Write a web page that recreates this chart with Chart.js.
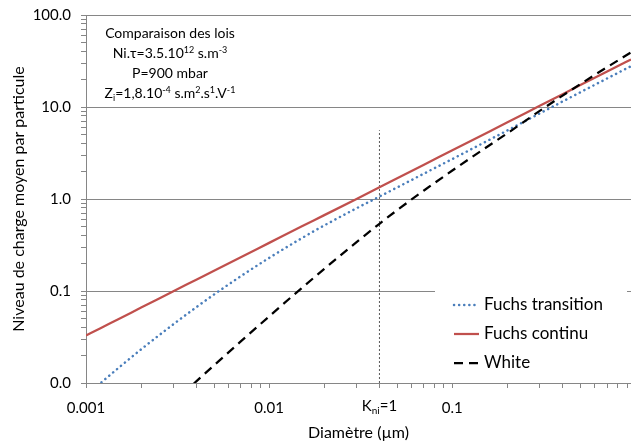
<!DOCTYPE html>
<html>
<head>
<meta charset="utf-8">
<script src="https://cdn.jsdelivr.net/npm/chart.js@4.4.1/dist/chart.umd.min.js"></script>
<style>
    html, body { margin: 0; padding: 0; background: #fff; }
    canvas { display: block; }
</style>
</head>
<body>
<canvas id="chart" width="631" height="445"></canvas>
<script>
// ---- Données (diamètre en µm, charge moyenne) ----
const diametres = [0.001, 0.0012, 0.0015, 0.002, 0.003, 0.004, 0.005, 0.007, 0.01, 0.015, 0.02,
    0.03, 0.04, 0.05, 0.07, 0.1, 0.15, 0.2, 0.3, 0.4, 0.5, 0.7, 0.945];
const fuchsTransition = [0.00728, 0.00997, 0.01452, 0.02323, 0.04354, 0.06667, 0.09163, 0.1448, 0.2291,
    0.3732, 0.5164, 0.7934, 1.063, 1.336, 1.888, 2.721, 4.133, 5.571, 8.508, 11.48, 14.46, 20.44, 27.80];
const fuchsContinu = [0.0328, 0.0394, 0.0494, 0.0660, 0.0994, 0.1328, 0.1663, 0.2332, 0.3335,
    0.501, 0.668, 1.003, 1.34, 1.68, 2.36, 3.38, 5.09, 6.81, 10.3, 13.8, 17.3, 24.3, 32.9];
const white = [0.00072, 0.00104, 0.00162, 0.00284, 0.00613, 0.01041, 0.01556, 0.0283, 0.0530,
    0.1070, 0.1739, 0.340, 0.538, 0.757, 1.237, 2.039, 3.538, 5.187, 9.08, 13.30, 17.74, 27.11, 39.2];

// droite K_ni = 1
const kniDiametre = 0.04;
const kniCharge = [0.01, 5.6];

const seriesLabels = ['Fuchs transition', 'Fuchs continu', 'White'];
const xMajor = [0.001, 0.01, 0.1];
const yMajor = [0.01, 0.1, 1, 10, 100];
const xMin = 0.001, xMax = 0.945;
const yMin = 0.01, yMax = 100;

// encadré en haut à gauche : [texte, style] (n = normal, sup = exposant, sub = indice)
const annotation = [
    [['Comparaison des lois', 'n']],
    [['Ni.τ=3.5.10', 'n'], ['12', 'sup'], [' s.m', 'n'], ['-3', 'sup']],
    [['P=900 mbar', 'n']],
    [['Z', 'n'], ['i', 'sub'], ['=1,8.10', 'n'], ['-4', 'sup'], [' s.m', 'n'], ['2', 'sup'],
        ['.s', 'n'], ['1', 'sup'], ['.V', 'n'], ['-1', 'sup']]
];
const kniLabel = [['K', 'n'], ['ni', 'sub'], ['=1', 'n']];

const FONT = 'Lato';
const GRID = '#868686';

// ---- log ticks: majors + 2..9 minors ----
function logTicks(majors, max) {
    const out = [];
    majors.forEach(m => {
        out.push({ value: m, major: true });
        for (let k = 2; k <= 9; k++) {
            const v = +(m * k).toPrecision(6);
            if (v <= max && !majors.includes(v)) out.push({ value: v, major: false });
        }
    });
    return out;
}

// draw text made of normal / sup / sub runs, centred on x
function drawRuns(ctx, runs, cx, cy, size) {
    const small = Math.round(size * 0.65);
    const fontFor = s => `${s === 'n' ? size : small}px ${FONT}`;
    let w = 0;
    runs.forEach(([t, s]) => { ctx.font = fontFor(s); w += ctx.measureText(t).width; });
    let x = cx - w / 2;
    ctx.textAlign = 'left';
    ctx.textBaseline = 'alphabetic';
    const base = cy + size * 0.35;
    runs.forEach(([t, s]) => {
        ctx.font = fontFor(s);
        const dy = s === 'sup' ? -size * 0.38 : s === 'sub' ? size * 0.2 : 0;
        ctx.fillText(t, x, base + dy);
        x += ctx.measureText(t).width;
    });
}

const toPoints = vals => diametres.map((d, i) => ({ x: d, y: vals[i] }));

const decorations = {
    id: 'decorations',
    afterDraw(chart) {
        const { ctx, chartArea, scales } = chart;
        ctx.save();
        ctx.fillStyle = '#000';

        // encadré de texte
        const cx = chartArea.left + 84;
        annotation.forEach((line, i) => drawRuns(ctx, line, cx, chartArea.top + 18 + i * 20, 14));

        // étiquette K_ni=1 sous l'axe
        drawRuns(ctx, kniLabel, scales.x.getPixelForValue(kniDiametre), chartArea.bottom + 23, 15);

        // légende
        const lx = chartArea.right - 196, ly = chartArea.bottom - 96;
        ctx.fillStyle = '#fff';
        ctx.fillRect(lx, ly, 192, 94);
        seriesLabels.forEach((label, i) => {
            const ds = chart.data.datasets[i];
            const y = ly + 18 + i * 29;
            ctx.beginPath();
            ctx.strokeStyle = ds.borderColor;
            ctx.lineWidth = ds.borderWidth;
            ctx.lineCap = ds.borderCapStyle || 'butt';
            ctx.setLineDash(ds.borderDash || []);
            ctx.moveTo(lx + 19, y);
            ctx.lineTo(lx + 44, y);
            ctx.stroke();
            ctx.setLineDash([]);
            ctx.fillStyle = '#000';
            ctx.font = `17px ${FONT}`;
            ctx.textAlign = 'left';
            ctx.textBaseline = 'middle';
            ctx.fillText(label, lx + 49, y);
        });
        ctx.restore();
    }
};

new Chart(document.getElementById('chart'), {
    type: 'scatter',
    data: {
        datasets: [
            {
                label: seriesLabels[0], data: toPoints(fuchsTransition), showLine: true,
                borderColor: '#4a7ebb', borderWidth: 2.5, borderDash: [0.1, 5], borderCapStyle: 'round',
                pointRadius: 0, cubicInterpolationMode: 'monotone', clip: 0, order: 1
            },
            {
                label: seriesLabels[1], data: toPoints(fuchsContinu), showLine: true,
                borderColor: '#c0504d', borderWidth: 2.25,
                pointRadius: 0, cubicInterpolationMode: 'monotone', clip: 0, order: 2
            },
            {
                label: seriesLabels[2], data: toPoints(white), showLine: true,
                borderColor: '#000', borderWidth: 2.25, borderDash: [9, 6],
                pointRadius: 0, cubicInterpolationMode: 'monotone', clip: 0, order: 0
            },
            {
                label: 'Kni', data: kniCharge.map(v => ({ x: kniDiametre, y: v })), showLine: true,
                borderColor: '#595959', borderWidth: 1, borderDash: [2, 2],
                pointRadius: 0, clip: 0, order: 3
            }
        ]
    },
    options: {
        responsive: false,
        animation: false,
        devicePixelRatio: 1,
        layout: { autoPadding: false, padding: { top: 15, right: 0, bottom: 0, left: 0 } },
        plugins: { legend: { display: false }, tooltip: { enabled: false } },
        scales: {
            x: {
                type: 'logarithmic', min: xMin, max: xMax,
                afterFit: s => { s.height = 62; s.paddingLeft = 0; s.paddingRight = 0; },
                afterBuildTicks: s => { s.ticks = logTicks(xMajor, xMax); },
                border: { color: GRID, width: 1 },
                grid: { drawOnChartArea: false, tickColor: GRID, tickLength: 5 },
                ticks: {
                    autoSkip: false, maxRotation: 0, padding: 11, color: '#000',
                    font: { family: FONT, size: 15 },
                    callback: v => xMajor.includes(v) ? String(v) : ''
                },
                title: {
                    display: true, text: 'Diamètre (µm)', color: '#000',
                    font: { family: FONT, size: 16, lineHeight: 1.5 }, padding: 0
                }
            },
            y: {
                type: 'logarithmic', min: yMin, max: yMax,
                afterFit: s => { s.width = 86; s.paddingTop = 0; s.paddingBottom = 0; },
                afterBuildTicks: s => { s.ticks = logTicks(yMajor, yMax); },
                border: { color: GRID, width: 1 },
                grid: {
                    color: c => (c.tick && c.tick.major) ? GRID : 'rgba(0,0,0,0)',
                    tickColor: GRID, tickLength: 5
                },
                ticks: {
                    autoSkip: false, padding: 10, color: '#000',
                    font: { family: FONT, size: 15 },
                    callback: v => yMajor.includes(v) ? v.toFixed(1) : ''
                },
                title: {
                    display: true, text: 'Niveau de charge moyen par particule', color: '#000',
                    font: { family: FONT, size: 16, lineHeight: 1 }, padding: { top: 11, bottom: 11 }
                }
            }
        }
    },
    plugins: [decorations]
});
</script>
</body>
</html>
